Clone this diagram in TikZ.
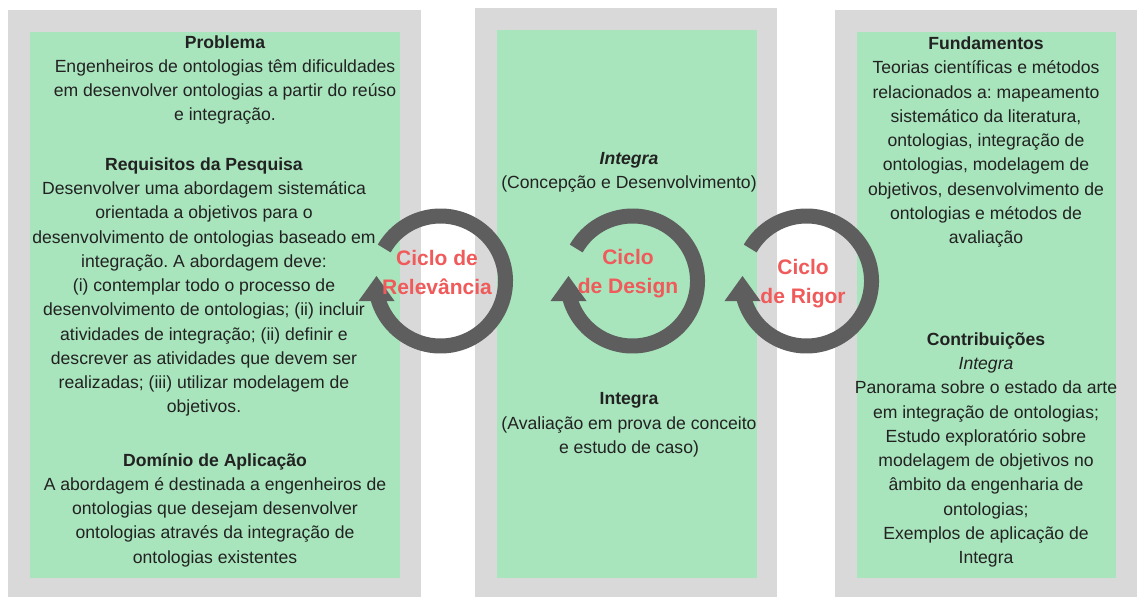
\documentclass[tikz,border=0pt]{standalone}
\usepackage{fontspec}
\setmainfont{Liberation Sans}
\frenchspacing
\definecolor{panelgray}{HTML}{D9D9D9}
\definecolor{panelgreen}{HTML}{A8E4BC}
\definecolor{ringgray}{HTML}{5E5E5E}
\definecolor{cyclered}{HTML}{F05A5A}
\definecolor{txt}{HTML}{222222}
\begin{document}
\begin{tikzpicture}[x=1pt,y=-1pt,
  body/.style={align=center, inner sep=0pt, text=txt, font=\frenchspacing\fontsize{17.6}{24.25}\selectfont},
  cyc/.style={align=center, inner sep=0pt, text=cyclered, font=\bfseries\fontsize{21}{29}\selectfont},
  ring/.style={draw=ringgray, line width=15pt},
  ringtip/.style={fill=ringgray}]
\useasboundingbox (0,0) rectangle (1137,597);
\fill[white] (0,0) rectangle (1137,597);
% panels
\fill[panelgray] (8,10) rectangle (421,597);
\fill[panelgreen] (30,32) rectangle (400,578);
\fill[panelgray] (475,8) rectangle (777,597);
\fill[panelgreen] (497,30) rectangle (757,578);
\fill[panelgray] (835,10) rectangle (1137,597);
\fill[panelgreen] (857,32) rectangle (1116,578);
% left texts
\node[body] (prob) at (225,80) {\textbf{Problema}\\
Engenheiros de ontologias têm dificuldades\\
em desenvolver ontologias a partir do reúso\\
e integração.};
\node[body] (req) at (204,287) {\textbf{Requisitos da Pesquisa}\\
Desenvolver uma abordagem sistemática\\
orientada a objetivos para o\\
desenvolvimento de ontologias baseado em\\
integração. A abordagem deve:\\
(i) contemplar todo o processo de\\
desenvolvimento de ontologias; (ii) incluir\\
atividades de integração; (ii) definir e\\
descrever as atividades que devem ser\\
realizadas; (iii) utilizar modelagem de\\
objetivos.};
\node[body] (dom) at (215,510) {\textbf{Domínio de Aplicação}\\
A abordagem é destinada a engenheiros de\\
ontologias que desejam desenvolver\\
ontologias através da integração de\\
ontologias existentes};
% middle texts
\node[body] (conc) at (629,172) {\textbf{\textit{Integra}}\\
(Concepção e Desenvolvimento)};
\node[body] (aval) at (629,425) {\textbf{Integra}\\
(Avaliação em prova de conceito\\
e estudo de caso)};
% right texts
\node[body] (fund) at (986,142) {\textbf{Fundamentos}\\
Teorias científicas e métodos\\
relacionados a: mapeamento\\
sistemático da literatura,\\
ontologias, integração de\\
ontologias, modelagem de\\
objetivos, desenvolvimento de\\
ontologias e métodos de\\
avaliação};
\node[body] (contr) at (986,450) {\textbf{Contribuições}\\
\textit{Integra}\\
Panorama sobre o estado da arte\\
em integração de ontologias;\\
Estudo exploratório sobre\\
modelagem de objetivos no\\
âmbito da engenharia de\\
ontologias;\\
Exemplos de aplicação de\\
Integra};
% rings
\coordinate (c1) at (440.5,281);
\coordinate (c2) at (632.5,281);
\coordinate (c3) at (806.5,281);
\foreach \c in {c1,c2,c3}{
  \draw[ring] (\c) ++(210:65) arc[start angle=210, end angle=525, radius=65];
  \fill[ringtip] (\c) ++(-64,-5) -- ++(-18,25) -- ++(36,0) -- cycle;
}
% cycle labels
\node[cyc] (rel) at (437,272) {Ciclo de\\Relevância};
\node[cyc] (des) at (628,273.5) {Ciclo\\de Design};
\node[cyc] (rig) at (803,283.5) {Ciclo\\de Rigor};
\end{tikzpicture}
\end{document}
